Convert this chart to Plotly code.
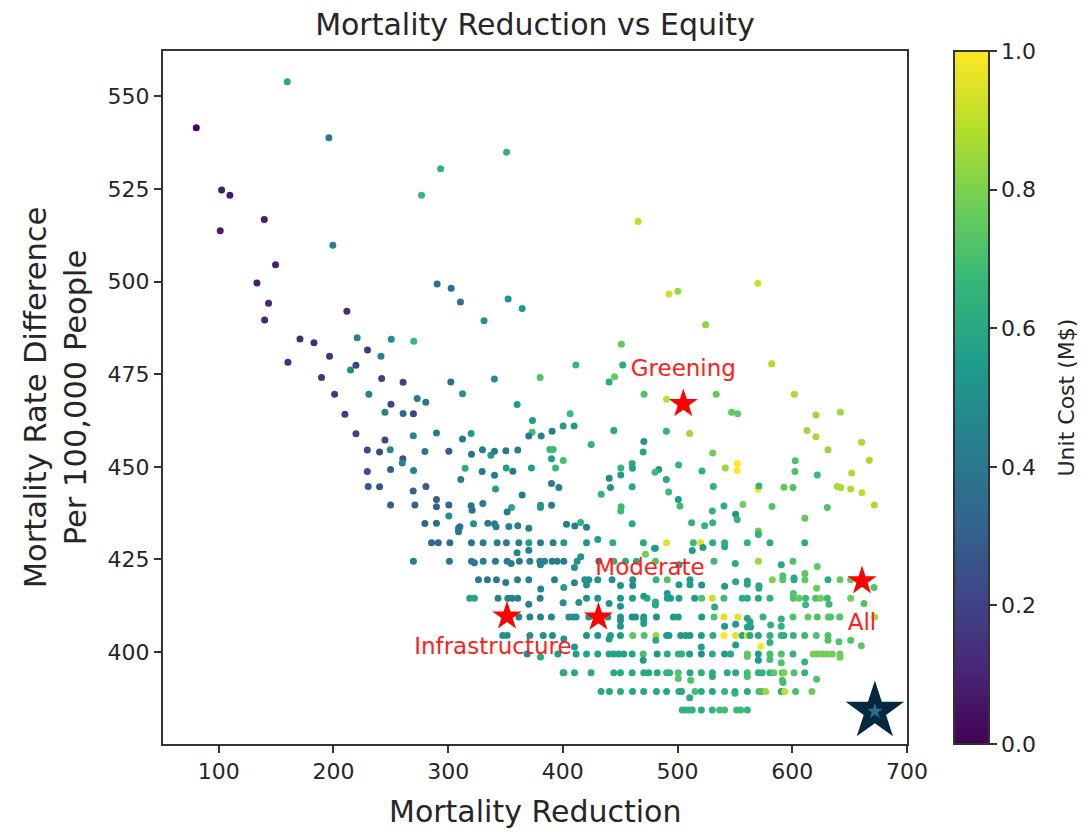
import plotly.graph_objects as go

# Points that sit on the regular rate-difference rows
row_rates = [384.4, 389.4, 394.4, 399.5, 404.5, 409.5, 414.5, 419.5, 424.5, 429.5]
row_reductions = [
    [504.1,507,509.9,512.8,520.7, 530.3,536.7,541,551.5,555, 560.8],
    [433.3,440.6,450.2,460.7,470.5, 481.6,490.4,501.2,503.5,515.2, 520.7,530.3,541,550,560.8, 570.9,573.3,576.8,590.4,593.3, 602.9,617.1],
    [400.2,400.9,410.1,424.6,444.4, 450.2,460.4,470.5,474.9,482.2, 490.4,493.1,500.6,510.8,520.7, 530.3,543.3,550.6,560.8,570.4, 573.8,580.5,584,591.3,592.7, 601.5,610.8],
    [368.8,395.6,411.5,420.6,430.4, 440.3,444.4,448.7,453.1,460.4, 470,482.2,491,500.6,503.5, 510.5,520.7,530.3,541,546.2, 560.8,570.4,580.5,590.4,600.6, 618.3,621.8,626.2,630.5,634.9, 641.6],
    [347.6,351.4,371.2,382.8,390.9, 420.6,430.4,441.5,450.2,460.9, 470.8,481.1,490.4,492.5,502.7, 507,510.8,520.7,530.8,540.4, 550.6,556.4,560.8,563.1,570.4, 580.5,590.4,592.7,600.9,610.8, 620.9,631.1],
    [361.6,371.2,380.5,390,405.2, 409,411.5,422.6,439.2,450.2, 460.4,463.3,470.5,481.6,496.3, 500.6,521,531.7,540.4,552.6, 574.4,600.6,613.7,621.8,631.4, 633.4,641.3,671.8],
    [318.8,322.9,343.5,352,355.8, 360.7,380.2,420.6,430.4,450.2, 460.7,473.4,491,493.9,501.2, 514.9,521,530.3,540.4,556.4, 560.8,570.4,580.5,600.9,605.8, 611.6,620.3,624.7,630.5,650.9],
    [326.4,334.2,342.1,360.4,370.3, 392.7,419.1,422.6,430.4,442.9, 460.9,481.3,491,510.8,582.6, 591.7,601.5,611,631.1,641.6, 650.9],
    [269.7,301.1,320.3,330.5,341.2, 351.4,362.1,371.2,379.9,384, 390.6,395,400.8,412.4,431.3, 444.4,454.6,464.1,480.7,531.7, 570.4,600.6],
    [285.5,291.4,301.5,320.3,330.5, 342.7,350.8,361.6,370.3,380.5, 391.5,400.8,420.6,443.5,470.2, 490.4,513.7,520.1,530.6,541, 560.8,580.5,610.8],
]
row_costs = [
    [.65,.63,.65,.65,.62, .65,.68,.7,.68,.68, .65],
    [.6,.6,.62,.6,.6, .6,.6,.6,.6,.7, .62,.6,.65,.65,.6, .7,.7,.85,.6,.9, .7,.77],
    [.62,.62,.6,.6,.6, .6,.6,.6,.6,.6, .65,.65,.72,.6,.62, .62,.6,.6,.7,.65, .65,.65,.75,.72,.8, .72,.65],
    [.5,.55,.55,.58,.58, .58,.58,.58,.58,.58, .7,.55,.6,.65,.65, .55,.5,.62,.55,.6, .75,.55,.7,.72,.65, .78,.78,.78,.78,.78, .78],
    [.5,.5,.5,.5,.5, .52,.52,.55,.55,.75, .72,.85,.55,.55,.55, .55,.55,.55,.62,1.0, .95,.6,.95,.6,.6, .65,.65,.65,.65,.68, .72,.72],
    [.45,.45,.45,.45,.5, .5,.5,.52,.52,.5, .5,.5,.5,.5,.55, .55,.55,.72,.95,.95, .65,.72,.75,.72,.72, .72,.72,.85],
    [.58,.58,.45,.45,.45, .45,.45,.5,.5,.52, .55,.6,.55,.55,.55, .55,.72,.92,.68,.62, .62,.6,.65,.72,.75, .68,.72,.78,.68,.78],
    [.42,.42,.42,.45,.45, .45,.5,.5,.5,.5, .5,.65,.72,.55,.8, .72,.6,.75,.62,.75, .75],
    [.42,.42,.42,.42,.42, .42,.42,.45,.45,.45, .42,.42,.42,.5,.55, .62,.6,.62,.72,.68, .85,.72],
    [.33,.33,.35,.4,.42, .42,.42,.42,.55,.42, .42,.55,.5,.62,.6, .95,.68,.95,.62,.62, .65,.62,.62],
]

# Points off those rows, read one by one
other_reduction = [
    159.7,80.4,196,293.4,351, 276.8,102.5,109.7,139.7,101.3, 199.5,149.5,133.3,290.4,302.6,
    310.7,352.3,364.5,331.3,270, 451,411.3,452.2,380.2,445, 440.3,470.8,260.7,302.3,340.3,
    312.5,273,280.5,260.7,269.7, 360.1,373.5,406.3,400.2,409.8, 390.6,444.4,373.2,465.6,492.5,
    500.3,570,524.4,582,490.4, 533.7,601.8,547.1,552.3,620.6, 641.9,490.2,510.5,612.8,620.6,
    631.1,660.5,530.6,667.1,602.6, 602.3,621.8,651.7,552,552, 541.6,521.3,500.9,483.5,480.3,
    490.2,492.2,531.1,570.1,570.9, 592.7,600.6,639.2,642.1,650.9, 660.7,671.5,630.5,582.3,557,
    540.4,530.3,512.2,523.6,530.6, 550.6,552,611,500.6,502.1, 570.4,570.4,
    370.3,381.1,289.8,312.5,320, 424.7,470.6,470,300.6,320.3, 329.9,337.2,340.4,350.3,360.7,
    388.6,391.5,390.1,400.3,393.6, 314.8,350.6,356.4,329.6,340.4, 372.6,311,341.3,390.1,396.5,
    450.5,450.5,460.4,460.7,440.4, 441.5,460.4,433.4,364.5,289.8, 289.8,300.6,320,320.9,330.2,
    355.2,351.4,380.5,380.5,390.1, 450.8,450.5,300.6,289.8,310.2, 322.1,334.6,340.4,341.8,352.9,
    360.7,370.3,403.2,410.4,420.6, 415.4,460.4,
    143.4,140,211.7,170.8,183, 220.7,250.4,229.7,241.4,196.6, 160.3,219.6,214.9,189.6,242,
    201,230.9,250.1,210,244.9, 219.6,244.9,269.6,229.5,240.2, 249.5,279.7,260.5,260,229.5,
    249.8,269.8,230.3,240.2,269.5, 280.6,249.8,271,279.7,309, 309,
    430.4,472,479.8,360.1,370.3, 410.1,415.6,354.9,322.9,380.5, 350.2,400.8,410.1,420.6,450.2,
    460.9,380.7,370.3,400.2,413.9, 440.3,450.2,470.5,480.7,480.7, 450.2,450.2,470.5,470.5,440.3,
    400.8,481,410.1,380.5,470,
    510.5,550,500.6,511.4,530.3, 560.8,591.3,621.2,591.9,610.8, 560.8,570.4,580.5,590.4,641.6,
    520.7,550.6,572.4,660.2,580.5, 631.1,640.7,650.9,
    541,550.6,560.8,563.1,560.8, 563.7,581.1,590.4,590.4,491, 532.3,600.9,611.6,632,662.5,
    510.8,521,541,501.2,550.6, 560.8,560.8,570.9,570.9,621.2, 671.2,611,591.7,601.5,501.2,
    550.3,590.4,621.8,480.6,512.8, 522.1,541,
]
other_rate = [
    553.9,541.5,538.8,530.4,534.9, 523.3,524.7,523.3,516.7,513.7, 509.8,504.5,499.6,499.3,498.2,
    494.5,495.3,492.7,489.4,483.9, 483.1,477.5,477.5,474.1,474.3, 472.9,469.6,472.8,472.9,473.7,
    469.7,468.4,467.4,464.4,464.3, 466.8,462.5,464.3,461,461, 459.6,459.8,459.3,516.2,496.6,
    497.4,499.5,488.3,477.8,468.2, 469.6,469.6,464.7,464.3,464, 464.7,459.6,459,459.8,458.1,
    454.6,456.6,453.7,451.8,451.6, 448.7,447.8,448.3,450.9,449, 449.7,448.9,450.5,449.3,448.5,
    446.6,443.2,444.7,443.9,444.8, 444.5,444.4,444.7,444.4,444, 443,439.7,439,439.3,439.8,
    439.4,438.1,434.9,434.1,434.9, 437.2,435.8,436.1,441.2,439.4, 432.7,431.7,
    458.3,458.3,459.1,457.5,459, 456,456.8,454,454.2,453.4, 454.6,453.1,454.2,454.3,454.5,
    454.7,454.7,452.2,451.7,449.7, 449.6,449.7,448.8,448.7,447.7, 449.7,446.6,444,445.5,444.4,
    449.7,447.8,450.9,449.6,446.9, 444.4,444.6,442.6,442.4,441.2, 439.2,439.7,439.5,438.3,440.1,
    439,437.8,439.6,439,439.6, 439.2,438.1,436.7,434.8,433.8, 434.6,434.8,434.6,433.8,433.9,
    434.1,433.4,434.5,434,433.7, 435,434.6,
    494.1,489.6,492,484.5,483.5, 484.8,484.4,481.5,479.8,479.8, 478.2,477.4,476.1,474.1,473.8,
    469.6,469.6,466.9,464.2,464.7, 458.9,457.2,458.4,454.5,454, 454.6,454.1,452.2,451,448.7,
    449.3,449,444.7,444.6,443.5, 444.7,439.7,439.7,434.7,433.4, 432.5,
    430.4,426.4,428,426.8,427.5, 422.8,425.7,423.9,424.1,423.6, 418.8,417.4,418.7,418.1,418,
    418,417,412.9,413.3,413.4, 413.1,412.4,415.1,413.5,412.7, 408.5,407,408.8,407.7,403.5,
    403.5,403.2,401.4,398.7,397.8,
    387.7,388.9,392.9,392.4,393.4, 393.4,392.4,392.7,391.8,397.3, 398.8,397.8,398,397.1,398.6,
    401.4,401.9,401.6,401.7,402.6, 403.2,402.8,403.2,
    407,407.5,409.1,408.2,406.8, 406.8,407.3,408.9,407,415.8, 412.2,415.8,412.8,412.9,413.1,
    418.2,418.1,417.8,418.2,419, 419.2,418.3,417.9,417.2,417.2, 417.4,421.2,420.6,420,423.6,
    423.9,423.6,423.1,428,427.4, 428.2,428.4,
]
other_cost = [
    .6,.02,.42,.65,.63, .67,.07,.07,.08,.08, .45,.09,.09,.35,.36,
    .37,.52,.53,.52,.67, .75,.67,.6,.72,.75, .6,.72,.2,.37,.5,
    .52,.4,.38,.35,.2, .55,.55,.68,.55,.55, .42,.6,.7,.9,.92,
    .85,.92,.83,.88,.9, .75,.87,.75,.75,.85, .85,.65,.85,.85,.87,
    .85,.87,.78,.87,.72, .72,.68,.88,1,1, .85,.65,.65,.55,.68,
    .6,.68,.65,1,.65, .75,.72,.87,.87,.87, .9,.87,.72,.72,.78,
    .62,.65,.65,.65,.65, .5,.65,.75,.55,.68, .75,.65,
    .4,.45,.42,.4,.55, .65,.52,.6,.3,.38, .42,.55,.42,.4,.42,
    .68,.68,.55,.7,.68, .62,.57,.42,.4,.42, .55,.42,.55,.42,.45,
    .66,.55,.6,.57,.48, .52,.6,.65,.42,.3, .3,.33,.38,.38,.42,
    .6,.42,.52,.52,.42, .68,.68,.5,.35,.38, .5,.42,.42,.45,.45,
    .42,.42,.42,.42,.42, .65,.6,
    .1,.1,.12,.12,.12, .45,.48,.15,.45,.15, .13,.2,.48,.15,.2,
    .18,.45,.22,.18,.45, .2,.22,.47,.22,.22, .47,.42,.25,.45,.25,
    .3,.45,.27,.27,.3, .3,.3,.3,.33,.38, .4,
    .55,.78,.65,.45,.45, .5,.5,.42,.42,.45, .42,.55,.45,.5,.5,
    .5,.45,.45,.5,.5, .52,.52,.55,.6,.6, .52,.52,.55,.55,.55,
    .52,.6,.55,.6,.55,
    .6,.65,.72,.72,.62, .7,.72,.72,.7,.65, .75,.55,.7,.72,.78,
    .55,.55,1,.75,.65, .72,.72,.72,
    .55,.55,.58,.58,.58, .58,.65,.65,.65,.55, .6,.72,.68,.68,.72,
    .55,.52,.55,.55,.6, .6,.6,.6,.6,.77, .72,.75,.72,.6,.55,
    .62,.6,.75,.55,.55, .55,.62,
]

# Named policy scenarios
scenario_labels = ["Greening", "Moderate", "Infrastructure", "All"]
scenario_reduction = [505, 431, 351.3, 660.8]
scenario_rate = [467, 409.4, 409.7, 419.2]
label_reduction = [505, 476, 339, 660.7]
label_rate = [476, 422.4, 401, 407.5]

# Best scenario
best_reduction = [672]
best_rate = [384]
best_cost = [0.36]

x_ticks = [100, 200, 300, 400, 500, 600, 700]
y_ticks = [400, 425, 450, 475, 500, 525, 550]
cost_ticks = [0.0, 0.2, 0.4, 0.6, 0.8, 1.0]

assert len(other_reduction) == len(other_rate) == len(other_cost), (len(other_reduction), len(other_rate), len(other_cost))
for a, b in zip(row_reductions, row_costs):
    assert len(a) == len(b), (len(a), len(b))

xs, ys, cs = [], [], []
for r, rx, rc in zip(row_rates, row_reductions, row_costs):
    xs += rx
    ys += [r] * len(rx)
    cs += rc
xs += other_reduction
ys += other_rate
cs += other_cost

FONT = "DejaVu Sans"
INK = "#262626"
fig = go.Figure()
fig.add_trace(go.Scatter(
    x=xs, y=ys, mode="markers", showlegend=False,
    marker=dict(size=7, color=cs, colorscale="Viridis", cmin=0, cmax=1, line=dict(width=0),
                colorbar=dict(
                    x=(954 - 163) / (907 - 163), xanchor="left", y=0, yanchor="bottom",
                    len=1, lenmode="fraction", thickness=35, thicknessmode="pixels",
                    outlinecolor="#333", outlinewidth=2, ypad=0, xpad=0,
                    tickvals=cost_ticks, ticktext=["0.0", "0.2", "0.4", "0.6", "0.8", "1.0"],
                    ticks="outside", ticklen=7, tickwidth=1.5, tickcolor="#333",
                    tickfont=dict(family=FONT, size=22, color=INK))),
))
fig.add_trace(go.Scatter(
    x=scenario_reduction, y=scenario_rate, mode="markers", showlegend=False,
    marker=dict(symbol="star", size=22, color="#ff0000", line=dict(width=0)),
))
fig.add_trace(go.Scatter(
    x=best_reduction, y=best_rate, mode="markers", showlegend=False,
    marker=dict(symbol="star", size=44, color="#03283f", line=dict(width=0)),
))
fig.add_trace(go.Scatter(
    x=best_reduction, y=best_rate, mode="markers", showlegend=False,
    marker=dict(symbol="star", size=12, color=best_cost, colorscale="Viridis", cmin=0, cmax=1, line=dict(width=0)),
))
fig.add_trace(go.Scatter(
    x=label_reduction, y=label_rate, mode="text", text=scenario_labels, showlegend=False,
    textposition="middle center", textfont=dict(family=FONT, size=23, color="#ff2020"),
))

axis_common = dict(showgrid=False, zeroline=False, showline=True, mirror=True, linecolor="#333", linewidth=2,
                   ticks="outside", ticklen=7, tickwidth=1.5, tickcolor="#333",
                   tickfont=dict(family=FONT, size=22, color=INK))
fig.update_layout(
    width=1089, height=832, autosize=False,
    margin=dict(l=163, r=182, t=51, b=88),
    paper_bgcolor="white", plot_bgcolor="white",
    title=dict(text="Mortality Reduction vs Equity", x=(163 + 907) / 2 / 1089, xanchor="center",
               y=1 - 24 / 832, yanchor="middle", font=dict(family=FONT, size=30, color=INK)),
    xaxis=dict(range=[51.4, 700], tickvals=x_ticks, automargin=False, **axis_common),
    yaxis=dict(range=[375.2, 562.2], tickvals=y_ticks, title=dict(text="Mortality Rate Difference<br>Per 100,000 People",
               standoff=12, font=dict(family=FONT, size=30.5, color=INK)), **axis_common),
    annotations=[
        dict(text="Unit Cost (M$)", xref="paper", yref="paper",
             x=(1066 - 163) / 744, y=0.5, xanchor="center", yanchor="middle",
             textangle=-90, showarrow=False, font=dict(family=FONT, size=22, color=INK)),
        dict(text="Mortality Reduction", xref="paper", yref="paper",
             x=(535 - 163) / 744, y=(744 - 811) / 693, xanchor="center", yanchor="middle",
             showarrow=False, font=dict(family=FONT, size=30, color=INK)),
    ],
)
fig.write_html("out.html", config=dict(displayModeBar=False),
               post_script="document.body.style.margin='0';document.body.style.overflow='hidden';")
